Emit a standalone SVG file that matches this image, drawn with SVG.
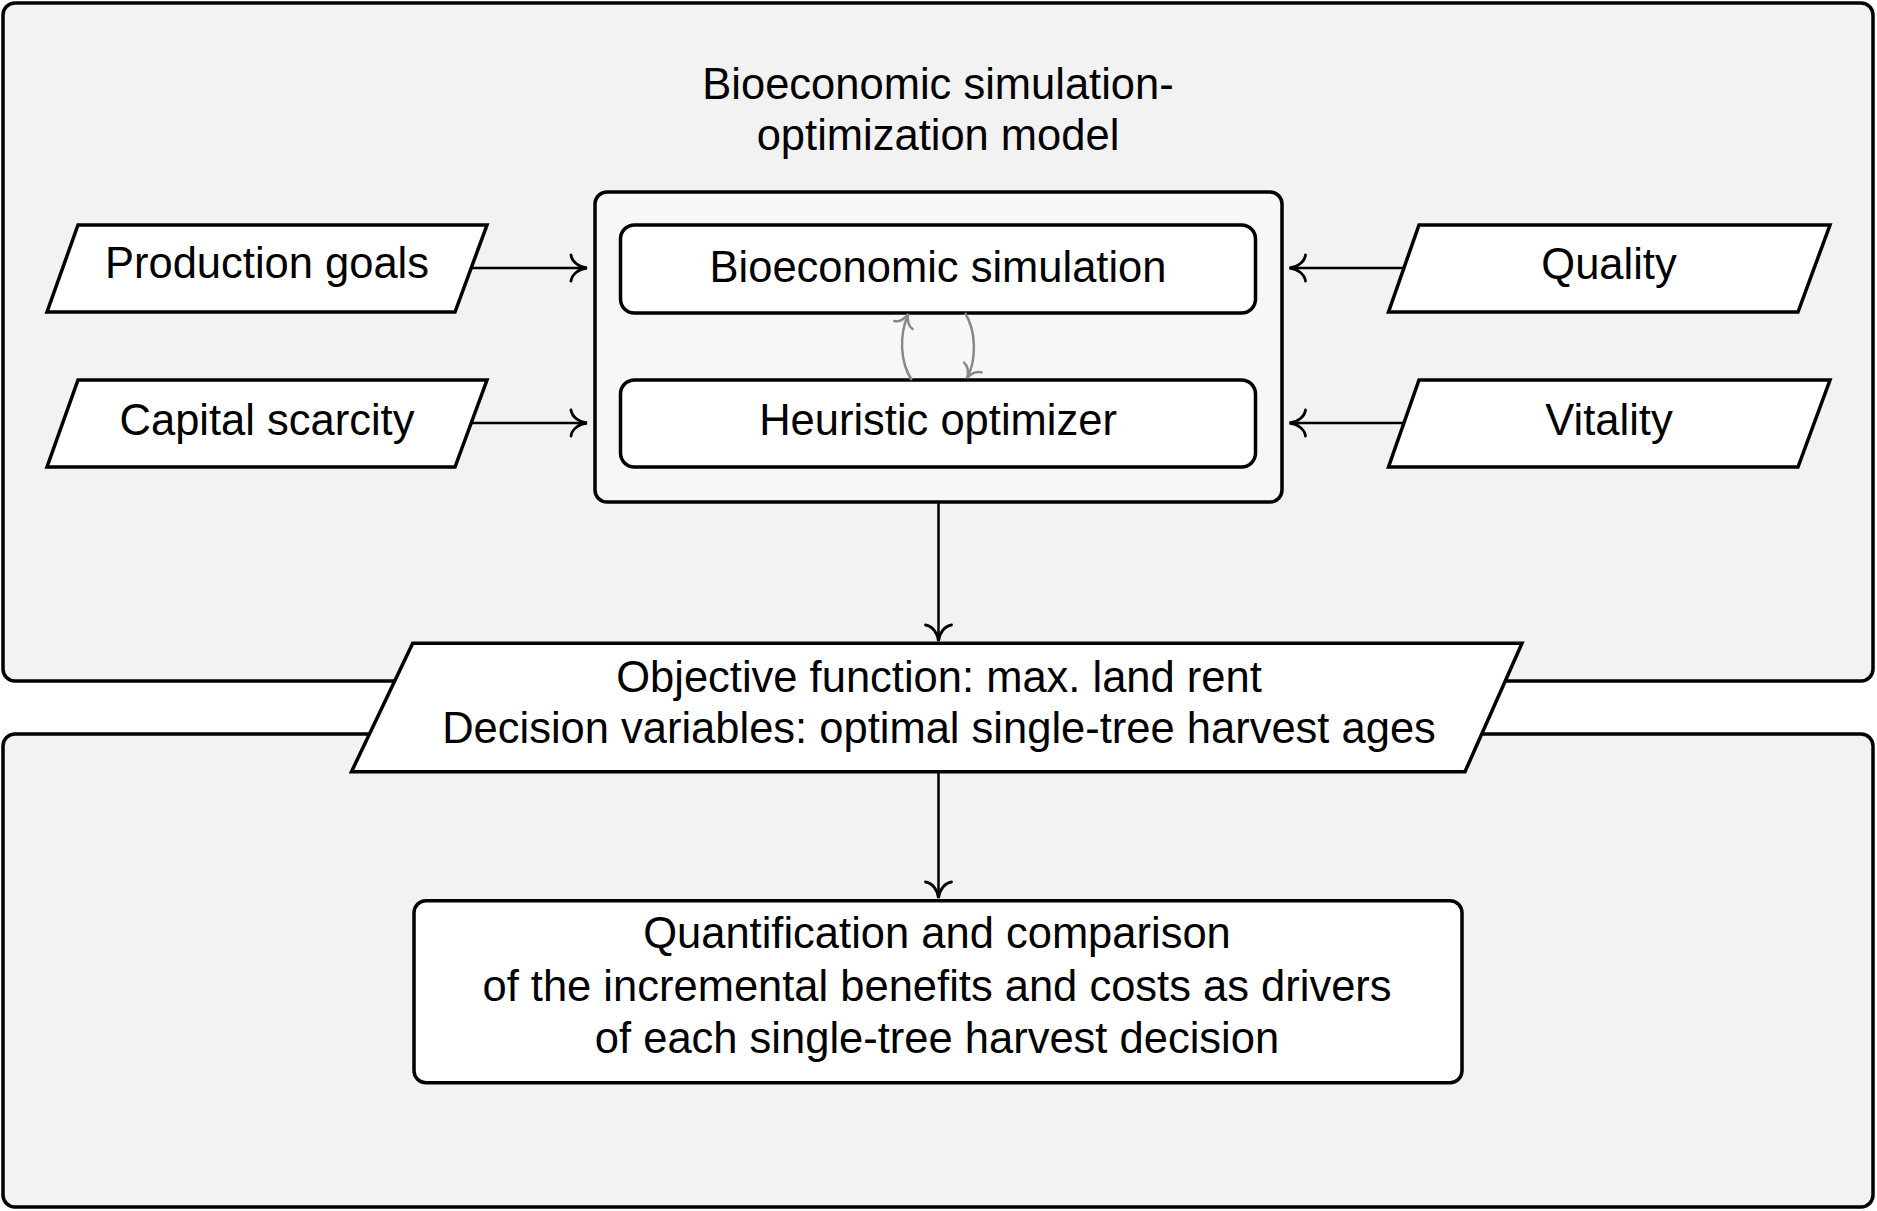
<svg xmlns="http://www.w3.org/2000/svg" width="1877" height="1211" viewBox="0 0 1877 1211">
<style>
.panel{fill:#f2f2f2;stroke:#000;stroke-width:3.5}
.cont{fill:#f7f7f7;stroke:#000;stroke-width:3.5}
.box{fill:#fff;stroke:#000;stroke-width:3.5}
.t{font-family:"Liberation Sans",Arial,sans-serif;font-size:43.5px;fill:#000;text-anchor:middle}
.conn{fill:none;stroke:#000;stroke-width:2.5}
.cyc{fill:none;stroke:#888;stroke-width:2.5}
</style>
<defs>
<marker id="arr" markerUnits="userSpaceOnUse" markerWidth="40" markerHeight="40" viewBox="-20 -20 40 40" refX="0" refY="0" orient="auto" overflow="visible">
<path d="M -16,-13 C -15,-6 -8,-1 0,0 C -8,1 -15,6 -16,13" fill="none" stroke="#000" stroke-width="2.8" stroke-linecap="round"/>
</marker>
<marker id="garr" markerUnits="userSpaceOnUse" markerWidth="30" markerHeight="30" viewBox="-15 -15 30 30" refX="0" refY="0" orient="auto" overflow="visible">
<path d="M -12,-10 C -11,-5 -6,-1 0,0 C -6,1 -11,5 -12,10" fill="none" stroke="#888" stroke-width="2.5" stroke-linecap="round"/>
</marker>
</defs>
<rect width="1877" height="1211" fill="#fff"/>
<g id="panel-top"><rect class="panel" x="3" y="3" width="1870" height="678" rx="12"/></g>
<g id="panel-bottom"><rect class="panel" x="3" y="734" width="1870" height="473" rx="12"/></g>
<g id="title">
<text class="t" x="938" y="99">Bioeconomic simulation-</text>
<text class="t" x="938" y="150">optimization model</text>
</g>
<g id="model-container"><rect class="cont" x="595" y="192" width="687" height="310" rx="12"/></g>
<g id="bio-sim"><rect class="box" x="620.5" y="225" width="635" height="88" rx="14"/><text class="t" x="938" y="282">Bioeconomic simulation</text></g>
<g id="heuristic"><rect class="box" x="620.5" y="380" width="635" height="87" rx="14"/><text class="t" x="938" y="435">Heuristic optimizer</text></g>
<g id="production-goals"><polygon class="box" points="78,225 487,225 455,312 47,312"/><text class="t" x="267" y="278">Production goals</text></g>
<g id="capital-scarcity"><polygon class="box" points="78,380 487,380 455,467 47,467"/><text class="t" x="267" y="435">Capital scarcity</text></g>
<g id="quality"><polygon class="box" points="1419,225 1830,225 1798,312 1388.5,312"/><text class="t" x="1609" y="279">Quality</text></g>
<g id="vitality"><polygon class="box" points="1419,380 1830,380 1798,467 1388.5,467"/><text class="t" x="1609" y="435">Vitality</text></g>
<g id="objective"><polygon class="box" points="412.7,643.3 1522,643.3 1465,771.7 351.5,771.7"/>
<text class="t" x="939" y="692">Objective function: max. land rent</text>
<text class="t" x="939" y="743">Decision variables: optimal single-tree harvest ages</text></g>
<g id="quantification"><rect class="box" x="414" y="900.7" width="1048" height="182" rx="12"/>
<text class="t" x="937" y="948">Quantification and comparison</text>
<text class="t" x="937" y="1001">of the incremental benefits and costs as drivers</text>
<text class="t" x="937" y="1053">of each single-tree harvest decision</text></g>
<g id="connectors">
<path class="conn" d="M 472,268 L 587,268" marker-end="url(#arr)"/>
<path class="conn" d="M 472,423 L 587,423" marker-end="url(#arr)"/>
<path class="conn" d="M 1403,268 L 1289.5,268" marker-end="url(#arr)"/>
<path class="conn" d="M 1403,423 L 1289.5,423" marker-end="url(#arr)"/>
<path class="conn" d="M 938.5,502 L 938.5,641" marker-end="url(#arr)"/>
<path class="conn" d="M 938.5,772 L 938.5,898" marker-end="url(#arr)"/>
<path class="cyc" d="M 911.7,380 C 900,362 899,335 908.3,314" marker-end="url(#garr)"/>
<path class="cyc" d="M 965,313 C 976,330 977,360 967,378" marker-end="url(#garr)"/>
</g>
</svg>
